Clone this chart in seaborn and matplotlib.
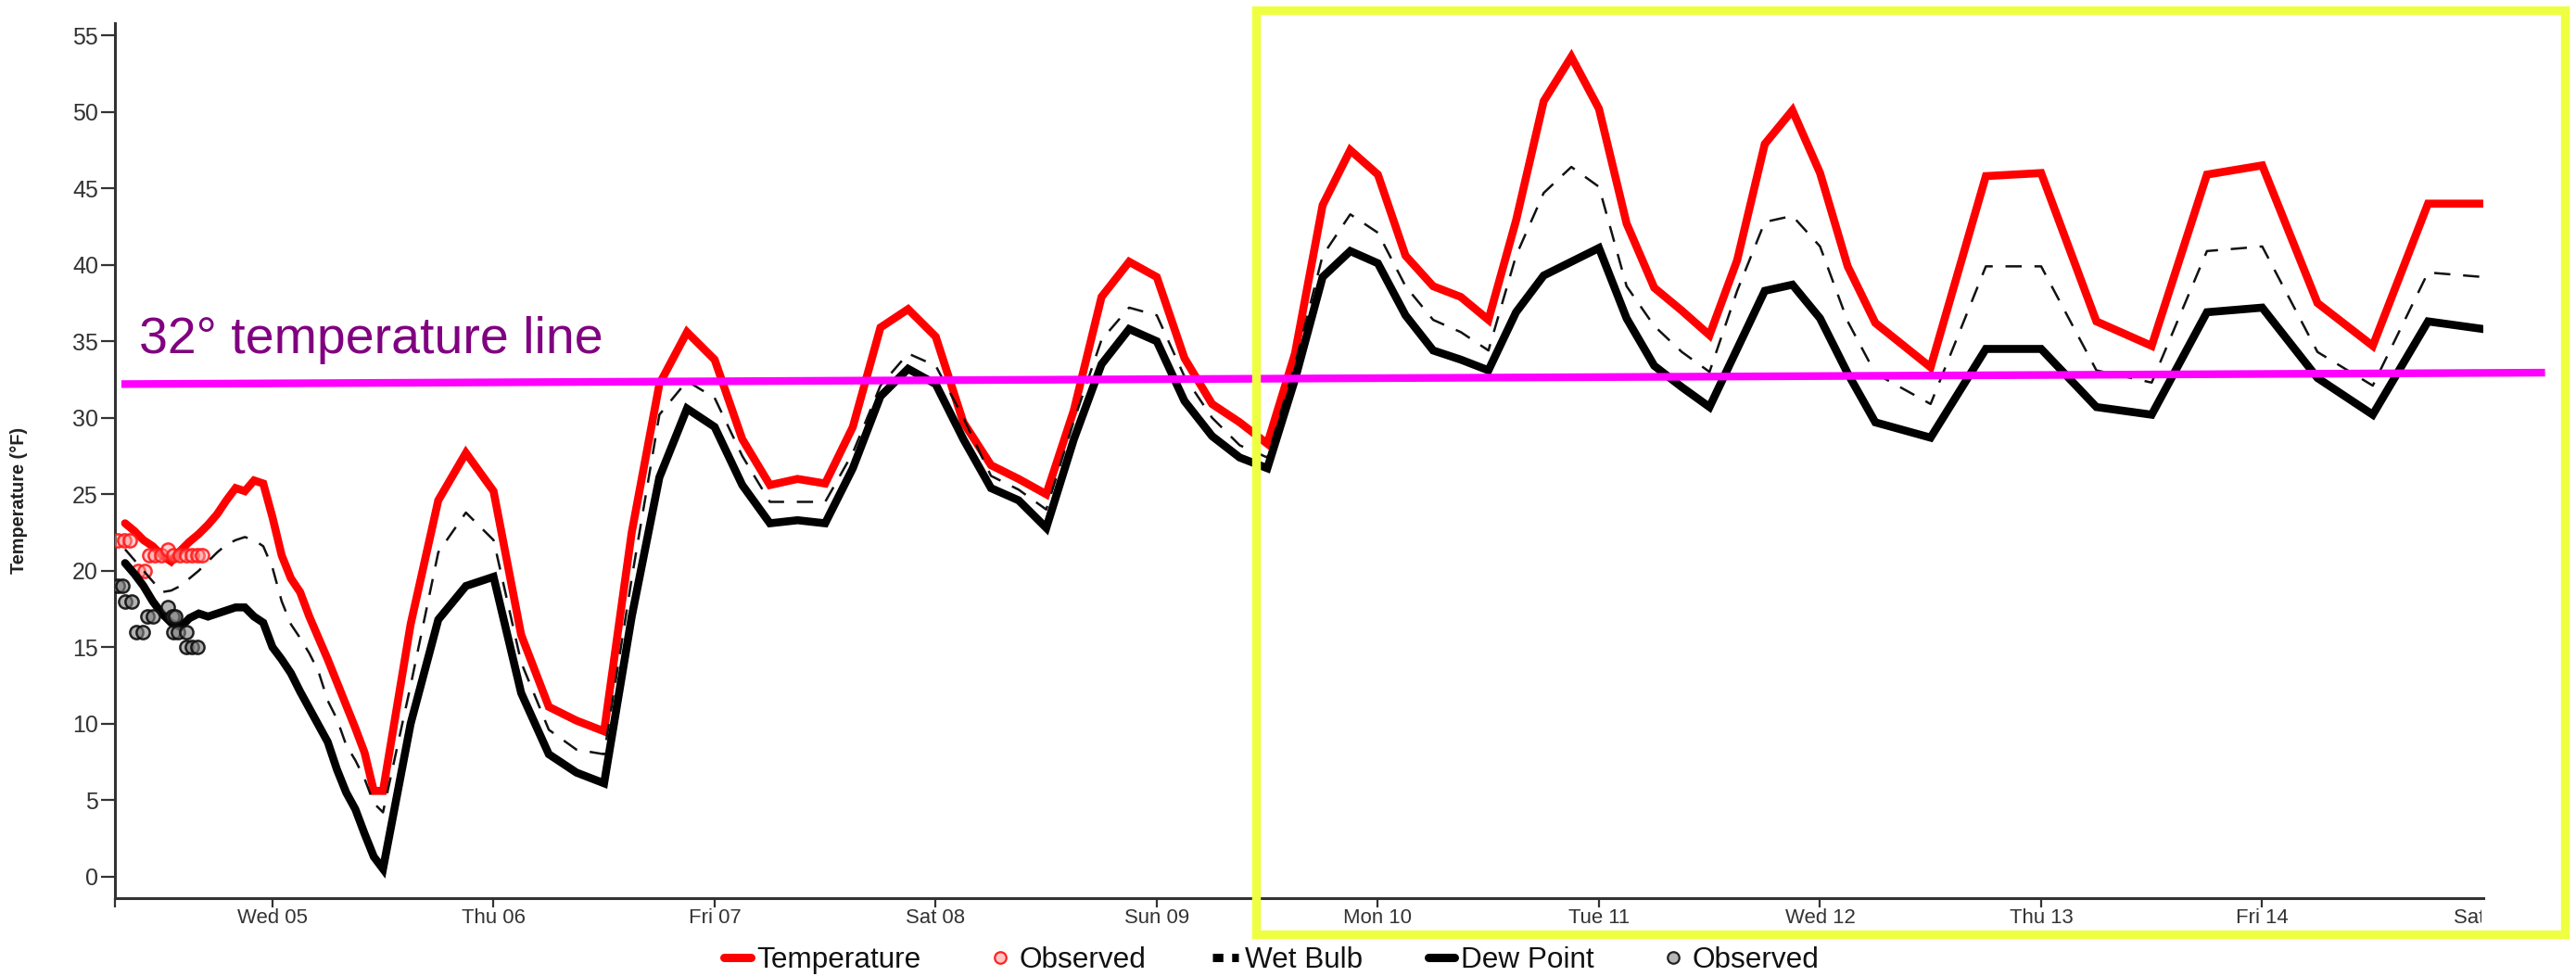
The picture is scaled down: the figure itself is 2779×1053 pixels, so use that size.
import numpy as np
import pandas as pd
import matplotlib
matplotlib.use("Agg")
import matplotlib.pyplot as plt
import seaborn as sns
from matplotlib.lines import Line2D
from matplotlib.patches import Rectangle
from matplotlib import font_manager
from matplotlib.font_manager import FontProperties

# ---------------- data ----------------
# hours relative to Wed 05 00:00
hours = ([-16, -15, -14, -13, -12, -11, -10, -9, -8, -7, -6, -5, -4, -3, -2, -1,
          0, 1, 2, 3, 4, 5, 6, 7, 8, 9, 10, 11, 12]
         + list(range(15, 175, 3)) + list(range(180, 241, 6)))

temperature = [23.1, 22.6, 22.0, 21.6, 21.0, 20.6, 21.3, 21.9, 22.4, 23.0, 23.7, 24.6, 25.4, 25.2, 25.9, 25.7,
               23.5, 21.0, 19.5, 18.6, 17.0, 15.6, 14.2, 12.7, 11.2, 9.7, 8.1, 5.6, 5.6,
               16.5, 24.6, 27.7, 25.2, 15.8, 11.1, 10.2, 9.5, 22.5, 32.2, 35.6, 33.8, 28.6, 25.6, 26.0, 25.7,
               29.4, 35.9, 37.1, 35.3, 29.7, 26.9, 26.0, 25.0, 30.5, 37.9, 40.2, 39.2, 33.9, 30.9, 29.7, 28.3,
               34.2, 43.9, 47.5, 45.9, 40.6, 38.6, 37.9, 36.4, 42.9, 50.7, 53.6, 50.2, 42.7, 38.5, 37.0, 35.4,
               40.3, 47.9, 50.1, 46.0, 39.9, 36.2,
               33.3, 45.8, 46.0, 36.3, 34.7, 45.9, 46.5, 37.5, 34.7, 44.0, 44.0]

wet_bulb = [21.4, 20.7, 20.0, 19.3, 18.6, 18.7, 19.0, 19.5, 20.0, 20.6, 21.2, 21.7, 22.0, 22.2, 22.0, 21.6,
            20.2, 18.0, 16.5, 15.6, 14.6, 13.4, 11.5, 10.3, 8.6, 7.6, 6.4, 4.8, 4.2,
            12.5, 21.2, 23.8, 22.0, 14.0, 9.6, 8.3, 8.0, 19.5, 30.2, 32.4, 31.3, 27.5, 24.5, 24.5, 24.5,
            27.7, 32.1, 34.2, 33.4, 30.0, 26.2, 25.3, 24.0, 29.8, 35.1, 37.2, 36.7, 32.7, 30.0, 28.2, 27.4,
            33.5, 40.6, 43.3, 42.1, 38.6, 36.4, 35.6, 34.4, 40.6, 44.7, 46.4, 45.1, 38.6, 36.0, 34.3, 33.0,
            38.3, 42.8, 43.2, 41.2, 36.3, 32.9,
            30.9, 39.9, 39.9, 33.1, 32.3, 40.9, 41.2, 34.3, 32.1, 39.5, 39.2]

dew_point = [20.5, 19.8, 19.0, 18.0, 17.2, 16.6, 16.3, 16.9, 17.2, 17.0, 17.2, 17.4, 17.6, 17.6, 17.0, 16.6,
             15.0, 14.2, 13.3, 12.1, 11.0, 9.9, 8.8, 7.0, 5.5, 4.4, 2.8, 1.3, 0.5,
             10.0, 16.8, 19.0, 19.6, 12.0, 8.0, 6.8, 6.1, 17.0, 26.1, 30.6, 29.4, 25.6, 23.1, 23.3, 23.1,
             26.7, 31.4, 33.2, 32.2, 28.6, 25.4, 24.6, 22.8, 28.6, 33.5, 35.8, 35.0, 31.1, 28.8, 27.4, 26.7,
             32.5, 39.2, 40.9, 40.1, 36.7, 34.4, 33.8, 33.1, 36.9, 39.3, 40.2, 41.1, 36.5, 33.4, 32.0, 30.7,
             34.5, 38.3, 38.7, 36.5, 32.9, 29.7,
             28.7, 34.5, 34.5, 30.7, 30.2, 36.9, 37.2, 32.6, 30.2, 36.3, 35.8]

obs_temp_hours = [-16.8, -16.1, -15.5, -14.6, -13.9, -13.4, -12.8, -12.1, -11.4, -10.8, -10.1, -9.4, -8.7, -8.1, -7.6]
obs_temp = [22, 22, 22, 20, 20, 21, 21, 21, 21.4, 21, 21, 21, 21, 21, 21]

obs_dew_hours = [-16.8, -16.3, -16.0, -15.3, -14.8, -14.1, -13.6, -12.95, -11.4, -10.9, -10.6,
                 -10.8, -10.3, -9.4, -9.4, -8.75, -8.1]
obs_dew = [19, 19, 18, 18, 16, 16, 17, 17, 17.6, 17, 17, 16, 16, 16, 15, 15, 15]

tick_hours = [0, 24, 48, 72, 96, 120, 144, 168, 192, 216, 240]
day_labels = ["Wed 05", "Thu 06", "Fri 07", "Sat 08", "Sun 09", "Mon 10",
              "Tue 11", "Wed 12", "Thu 13", "Fri 14", "Sat 15"]
y_ticks = list(range(0, 56, 5))

freeze_x = [-16.4, 246.7]
freeze_y = [32.2, 32.95]
freeze_label = "32° temperature line"

# ---------------- style ----------------
sns.set_theme(style="ticks")
plt.rcParams["font.family"] = ["Liberation Sans", "DejaVu Sans"]

names = {f.name for f in font_manager.fontManager.ttflist}
if "Liberation Sans Narrow" in names:
    narrow = ["Liberation Sans Narrow", "Liberation Sans", "DejaVu Sans"]
    nscale = 1.0
else:
    narrow = ["Liberation Sans", "DejaVu Sans"]
    nscale = 0.84

W, H, DPI = 2779, 1053, 100
fig = plt.figure(figsize=(W / DPI, H / DPI), dpi=DPI)
fig.patch.set_facecolor("white")


def fx(px):
    return px / W


def fy(py):
    return 1 - py / H


ax = fig.add_axes([fx(124), fy(969), (2679 - 124) / W, (969 - 25) / H])
ax.set_facecolor("white")

df = pd.DataFrame({"hour": hours, "Temperature": temperature,
                   "Wet Bulb": wet_bulb, "Dew Point": dew_point})

LW = 6.2
sns.lineplot(data=df, x="hour", y="Temperature", ax=ax, color="#ff0000", lw=LW,
             solid_joinstyle="miter", zorder=3, legend=False)
sns.scatterplot(x=obs_temp_hours, y=obs_temp, ax=ax, s=105, marker="o",
                color=(1.0, 0.6, 0.6, 0.45), edgecolor=(1.0, 0.1, 0.1, 0.9),
                linewidth=1.8, zorder=4, legend=False)
sns.lineplot(data=df, x="hour", y="Wet Bulb", ax=ax, color="#111111", lw=1.8,
             zorder=4, legend=False)
ax.lines[-1].set_linestyle((0, (7, 5.5)))
sns.lineplot(data=df, x="hour", y="Dew Point", ax=ax, color="#000000", lw=LW,
             solid_joinstyle="miter", zorder=5, legend=False)
sns.scatterplot(x=obs_dew_hours, y=obs_dew, ax=ax, s=105, marker="o",
                color=(0.5, 0.5, 0.5, 0.6), edgecolor=(0.05, 0.05, 0.05, 0.9),
                linewidth=1.8, zorder=6, legend=False)

ax.set_xlim(-17.1, 240)
ax.set_ylim(-1.41, 55.8)

ax.set_xticks(tick_hours)
ax.set_xticklabels(day_labels, fontfamily=narrow, fontsize=19 * nscale, color="#333333")
ax.set_xticks([-17.1], minor=True)
ax.set_yticks(y_ticks)
ax.set_yticklabels([str(v) for v in y_ticks], fontsize=18, color="#333333")
ax.tick_params(axis="x", which="both", length=7, width=1.6, color="#333333", pad=1)
ax.tick_params(axis="y", length=11, width=1.6, color="#333333", pad=2)

ax.set_xlabel("")
ax.set_ylabel("Temperature (°F)", fontfamily=narrow, fontsize=17 * nscale,
              fontweight="bold", color="#222222")
ax.yaxis.set_label_coords((30 - 124) / (2679 - 124), (969 - 540) / 944)

sns.despine(ax=ax)
for s in ("left", "bottom"):
    ax.spines[s].set_color("#333333")
    ax.spines[s].set_linewidth(2.2)

# annotation: freezing line
ax.plot(freeze_x, freeze_y, color="#ff00ff", lw=6.0, clip_on=False, zorder=10,
        solid_capstyle="butt")
ax.text(-14.5, 34.2, freeze_label, fontsize=40, color="#800080",
        va="baseline", ha="left", zorder=10)

# mask for clipped last tick label
fig.patches.append(Rectangle((fx(2677), fy(1004)), (2752 - 2677) / W, (1004 - 971) / H,
                             transform=fig.transFigure, facecolor="white",
                             edgecolor="none", zorder=1))

# legend
handles = [
    Line2D([], [], color="#ff0000", lw=6.5),
    Line2D([], [], marker="o", ls="none", markersize=9,
           markerfacecolor=(1.0, 0.62, 0.62, 0.6), markeredgecolor="#ff2020", markeredgewidth=1.6),
    Line2D([], [], color="#000000", lw=6.5, dashes=(1.25, 1.05), dash_capstyle="butt"),
    Line2D([], [], color="#000000", lw=6.5),
    Line2D([], [], marker="o", ls="none", markersize=9,
           markerfacecolor=(0.6, 0.6, 0.6, 0.7), markeredgecolor="#222222", markeredgewidth=1.6),
]
labels = ["Temperature", "Observed", "Wet Bulb", "Dew Point", "Observed"]
leg = fig.legend(handles, labels, loc="center", bbox_to_anchor=(fx(1372), fy(1036)),
                 ncol=5, frameon=False, handlelength=0.9, handletextpad=0.22,
                 columnspacing=2.25, borderpad=0, borderaxespad=0,
                 prop=FontProperties(family=narrow, size=27 * nscale))
for t in leg.get_texts():
    t.set_color("#111111")

# yellow highlight box
fig.patches.append(Rectangle((fx(1355), fy(1007.5)), (2767 - 1355) / W, (1007.5 - 10.5) / H,
                             transform=fig.transFigure, fill=False,
                             edgecolor="#eeff41", lw=6.8, zorder=8))

fig.savefig("out.png", dpi=DPI, facecolor="white")
